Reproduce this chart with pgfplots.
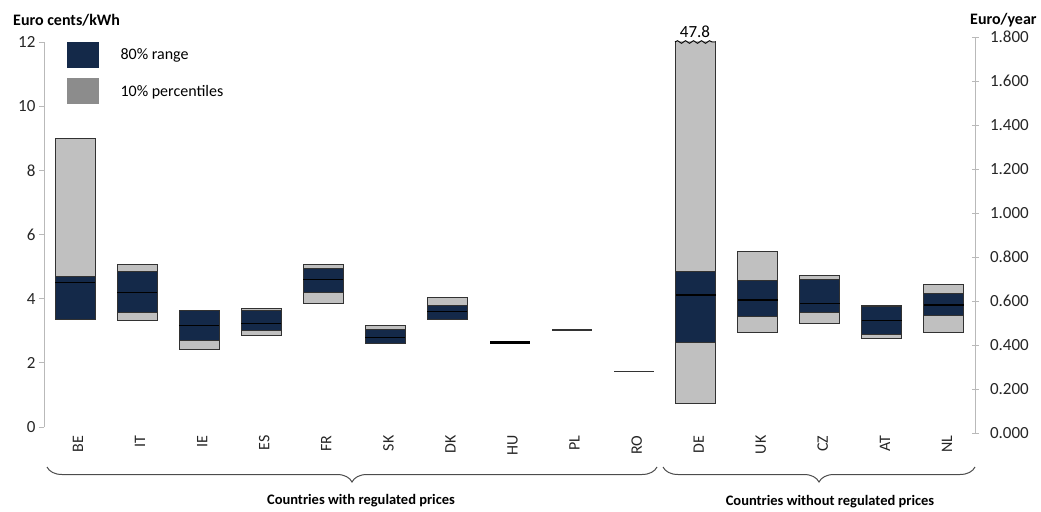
\documentclass[border=0pt]{standalone}
\usepackage{fontspec}
\setmainfont{Carlito}
\usepackage{pgfplots}
\pgfplotsset{compat=1.18}
\usepackage{pgfplotstable}
\usetikzlibrary{decorations.pathreplacing,decorations.pathmorphing}

\definecolor{navy}{RGB}{20,41,73}
\definecolor{lgray}{RGB}{192,192,192}
\definecolor{leggray}{RGB}{140,140,140}
\definecolor{bord}{RGB}{50,50,50}
\definecolor{axgray}{RGB}{185,185,185}

\pgfplotstableread{
idx lo p10 med p90 hi
0 3.34 3.34 4.50 4.69 9.00
1 3.31 3.58 4.20 4.84 5.07
2 2.43 2.69 3.16 3.62 3.62
3 2.86 3.01 3.23 3.63 3.70
4 3.86 4.19 4.60 4.93 5.07
5 2.59 2.59 2.80 3.04 3.16
6 3.35 3.35 3.59 3.80 4.04
10 0.74 2.64 4.11 4.86 47.8
11 2.96 3.44 3.96 4.56 5.47
12 3.22 3.56 3.85 4.61 4.72
13 2.75 2.89 3.31 3.76 3.80
14 2.96 3.46 3.80 4.17 4.45
}\bars

\pgfplotsset{base/.style={width=931pt,height=385pt,scale only axis,
  xmin=-0.5,xmax=14.5,ymin=0,ymax=12}}

\begin{document}
\begin{tikzpicture}
\begin{axis}[base, name=main, ybar stacked, bar width=40pt,
  axis y line*=left, axis x line*=bottom,
  x axis line style={draw=none},
  y axis line style={draw=axgray, line width=0.8pt},
  ytick={0,2,...,12},
  tick align=outside, major tick length=5pt,
  ytick style={draw=axgray, line width=0.8pt},
  xtick={0,...,14},
  xticklabels={BE,IT,IE,ES,FR,SK,DK,HU,PL,RO,DE,UK,CZ,AT,NL},
  xtick style={draw=none},
  xticklabel style={rotate=90, anchor=east, yshift=-3pt, font=\fontsize{16}{18}\selectfont, text=black!85},
  yticklabel style={font=\fontsize{17}{19}\selectfont, text=black!85},
  /pgf/number format/assume math mode=true,
  legend style={draw=none, fill=none, at={(0.024,1)}, anchor=north west,
    row sep=10pt, font=\fontsize{16}{18}\selectfont, inner sep=0pt,
    column sep=0pt},
  legend cell align=left,
]
\addlegendimage{legend image code/.code={\fill[navy, draw=none] (0pt,-13pt) rectangle (32pt,13pt); \path[draw=none, fill=none] (0pt,0pt) -- (52pt,0pt);}}
\addlegendentry{80\% range}
\addlegendimage{legend image code/.code={\fill[leggray, draw=none] (0pt,-13pt) rectangle (32pt,13pt); \path[draw=none, fill=none] (0pt,0pt) -- (52pt,0pt);}}
\addlegendentry{10\% percentiles}
\addplot[draw=none, fill=none, forget plot] table[x=idx, y=lo]{\bars};
\addplot[fill=lgray, draw=bord, line width=1pt, forget plot] table[x=idx, y expr=\thisrow{p10}-\thisrow{lo}]{\bars};
\addplot[fill=navy, draw=bord, line width=1pt, forget plot] table[x=idx, y expr=\thisrow{p90}-\thisrow{p10}]{\bars};
\addplot[fill=lgray, draw=bord, line width=1pt, forget plot] table[x=idx, y expr=\thisrow{hi}-\thisrow{p90}]{\bars};
\end{axis}

\begin{axis}[base, hide axis]
\addplot[only marks, mark=-, mark size=20pt, mark options={line width=1.3pt, draw=black}] table[x=idx, y=med]{\bars};
\addplot[only marks, mark=-, mark size=20pt, mark options={line width=3pt, draw=black}] coordinates {(7,2.64)};
\addplot[only marks, mark=-, mark size=20pt, mark options={line width=1.3pt, draw=black!80}] coordinates {(8,3.02) (9,1.72)};
\end{axis}

\begin{axis}[width=931pt, height=396pt, scale only axis, xmin=-0.5, xmax=14.5, ymin=0, ymax=1.8,
  yshift=-6pt,
  axis y line*=right, axis x line=none,
  y axis line style={draw=axgray, line width=0.8pt},
  ytick={0,0.2,0.4,0.6,0.8,1.0,1.2,1.4,1.6,1.8},
  yticklabels={0.000,0.200,0.400,0.600,0.800,1.000,1.200,1.400,1.600,1.800},
  tick align=center, major tick length=7pt,
  ytick style={draw=axgray, line width=0.8pt},
  yticklabel style={font=\fontsize{17}{19}\selectfont, text=black!85, xshift=8pt},
]
\end{axis}

\draw[decorate, decoration={brace, mirror, amplitude=15pt}, line width=1pt, draw=black!70]
  ([xshift=3pt,yshift=-40pt]main.south west) -- ([xshift=613pt,yshift=-40pt]main.south west);
\draw[decorate, decoration={brace, mirror, amplitude=15pt}, line width=1pt, draw=black!70]
  ([xshift=619pt,yshift=-40pt]main.south west) -- ([xshift=931pt,yshift=-40pt]main.south west);
\node[font=\bfseries\fontsize{14.5}{16}\selectfont] at ([xshift=317pt,yshift=-74pt]main.south west) {Countries with regulated prices};
\node[font=\bfseries\fontsize{14.5}{16}\selectfont] at ([xshift=786pt,yshift=-75pt]main.south west) {Countries without regulated prices};
\node[anchor=west, font=\bfseries\fontsize{16}{18}\selectfont, inner sep=0pt] at ([xshift=-31pt,yshift=22pt]main.north west) {Euro cents/kWh};
\node[anchor=west, font=\bfseries\fontsize{16}{18}\selectfont, inner sep=0pt] at ([xshift=-5pt,yshift=22pt]main.north east) {Euro/year};
\node[font=\fontsize{17}{19}\selectfont, inner sep=0pt] at ([xshift=651pt,yshift=10pt]main.north west) {47.8};
\draw[decorate, decoration={snake, segment length=8pt, amplitude=1.3pt}, line width=0.9pt]
  ([xshift=631pt]main.north west) -- ([xshift=671pt]main.north west);
\path ([xshift=-44pt,yshift=-83pt]main.south west) rectangle ([xshift=66pt,yshift=42pt]main.north east);
\end{tikzpicture}
\end{document}
